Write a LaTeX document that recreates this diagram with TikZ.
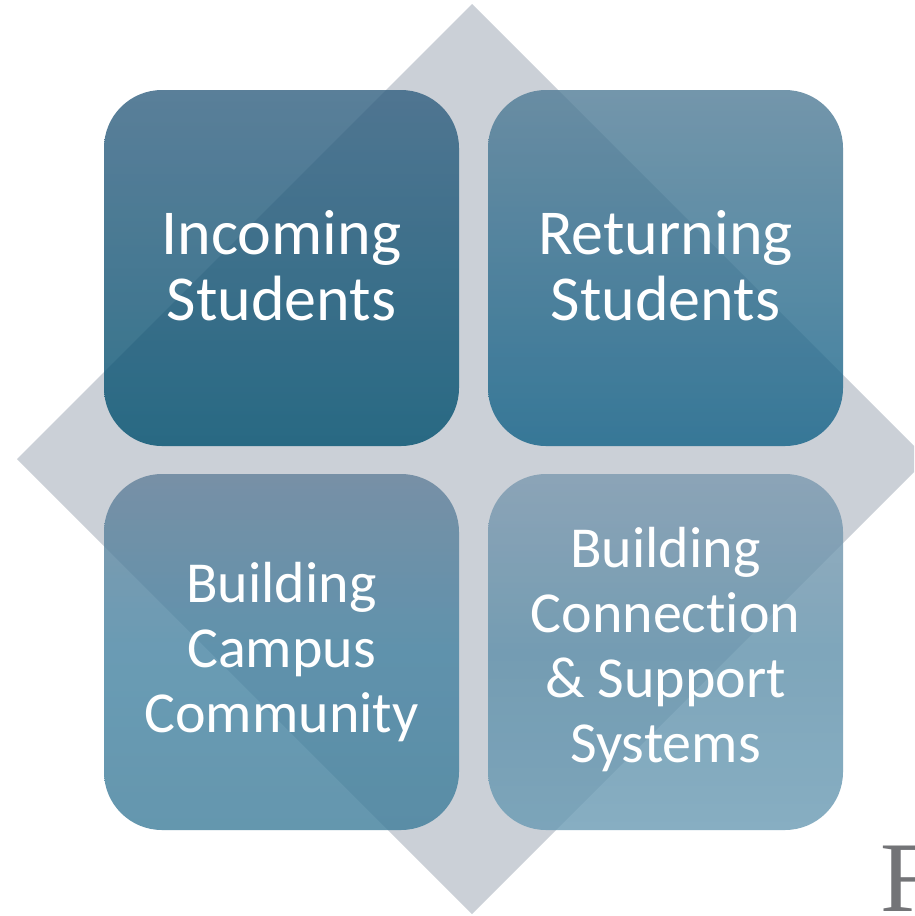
\documentclass[tikz,border=0pt]{standalone}
\usepackage{fontspec}
\setmainfont{Carlito}[Ligatures={NoCommon}]
\newfontfamily\logofont{Liberation Serif}
\definecolor{diamondgrey}{HTML}{CBD0D7}
\definecolor{tlTop}{HTML}{315F80}
\definecolor{tlBot}{HTML}{00506F}
\definecolor{trTop}{HTML}{517C96}
\definecolor{trBot}{HTML}{126288}
\definecolor{blTop}{HTML}{63819A}
\definecolor{blMid}{HTML}{4583A2}
\definecolor{blBot}{HTML}{3E7D9A}
\definecolor{brTop}{HTML}{7C99AF}
\definecolor{brMid}{HTML}{5F90AA}
\definecolor{brBot}{HTML}{699AB3}
\definecolor{logogrey}{HTML}{737477}
\tikzset{
  tile/.style={rounded corners=58pt, fill opacity=0.8},
  tiletext/.style={text=white, align=center, inner sep=0pt, anchor=base,
    font=\fontsize{64}{66}\selectfont},
  smalltext/.style={tiletext, font=\fontsize{58}{65}\selectfont}
}
\begin{document}
\begin{tikzpicture}[x=1pt,y=-1pt]
\useasboundingbox (0,0) rectangle (914,916);
\clip (0,0) rectangle (914,916);
\fill[white] (0,0) rectangle (914,916);
% diamond
\fill[diamondgrey] (472,4) -- (927,459) -- (472,914) -- (17,459) -- cycle;
% tiles
\shade[tile, top color=tlTop, bottom color=tlBot] (104,90) rectangle (459,446);
\shade[tile, top color=trTop, bottom color=trBot] (488,90) rectangle (843,446);
\shade[tile, top color=blTop, bottom color=blBot, middle color=blMid] (104,474) rectangle (459,830);
\shade[tile, top color=brTop, bottom color=brBot, middle color=brMid] (488,474) rectangle (843,830);
% texts (anchor base = baseline of last line)
\node[tiletext] (incoming) at (281.5,320) {Incoming\\Students};
\node[tiletext] (returning) at (665.5,320) {Returning\\Students};
\node[smalltext] (community) at (281.5,732) {Building\\Campus\\Community};
\node[smalltext] (connection) at (665.5,762) {Building\\Connection\\\& Support\\Systems};
% partial logo letter
\node[text=logogrey, anchor=base west, inner sep=0pt, font=\logofont\fontsize{100}{100}\selectfont] (logo) at (880,911) {F};
\end{tikzpicture}
\end{document}
